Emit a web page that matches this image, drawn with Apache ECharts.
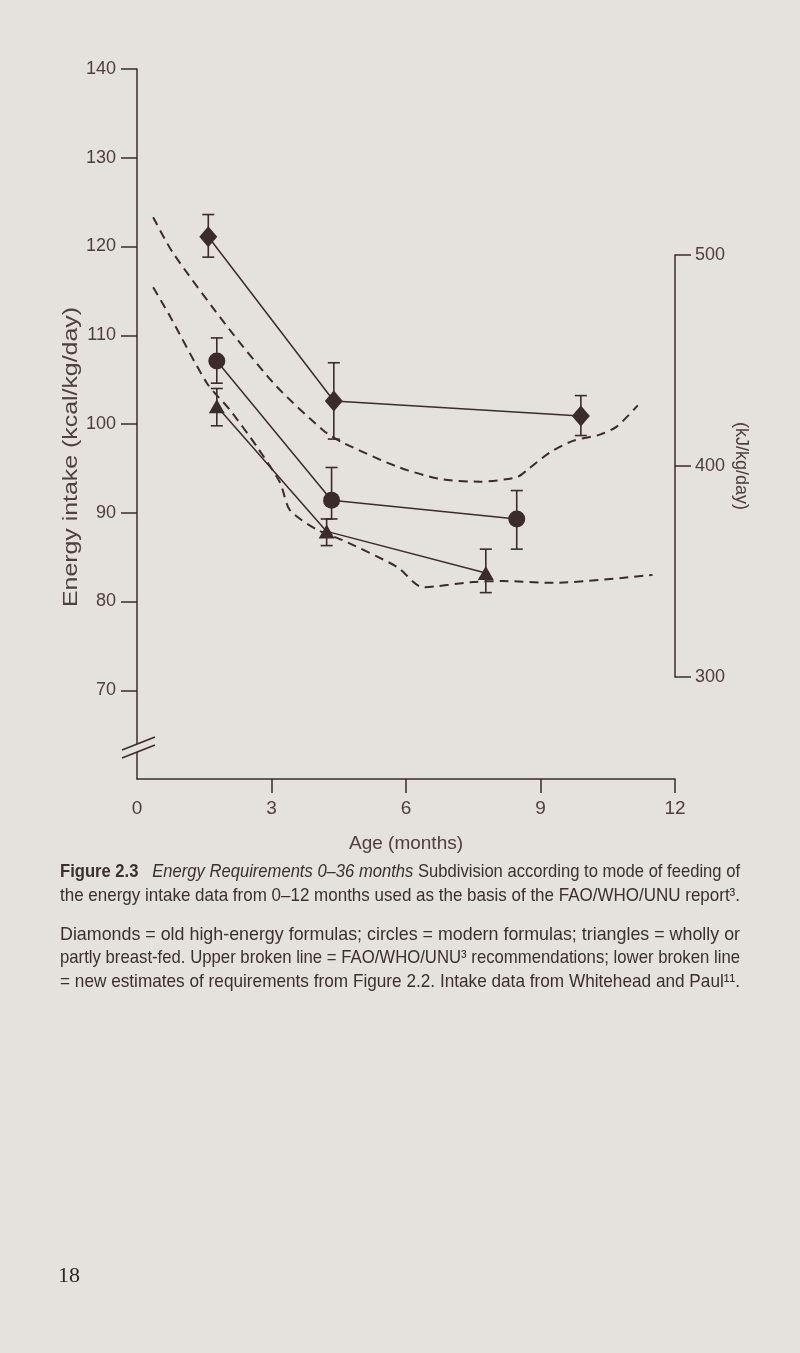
<!DOCTYPE html>
<html>
<head>
<meta charset="utf-8" />
<title>Figure 2.3</title>
<style>
  html, body { margin: 0; padding: 0; background: #e5e1dc; }
  #chart { width: 800px; height: 1353px; }
</style>
</head>
<body>
<div id="chart"></div>
<script src="https://cdn.jsdelivr.net/npm/echarts@6.0.0/dist/echarts.min.js"></script>
<script>
// tick labels
var xTicks = [0, 3, 6, 9, 12];
var kcalTicks = [70, 80, 90, 100, 110, 120, 130, 140];
var kjTicks = [300, 400, 500];

// intake data: age (months), mean and the ends of the bars (kcal/kg/day)
var diamondAge = [1.59, 4.39, 9.90];
var diamondMean = [121.1, 102.6, 100.9];
var diamondLow = [118.8, 98.3, 98.7];
var diamondHigh = [123.6, 106.9, 103.2];

var circleAge = [1.78, 4.34, 8.47];
var circleMean = [107.1, 91.4, 89.3];
var circleLow = [104.6, 89.3, 85.9];
var circleHigh = [109.7, 95.1, 92.5];

var triangleAge = [1.78, 4.23, 7.78];
var triangleMean = [102.0, 87.9, 83.2];
var triangleLow = [99.8, 86.3, 81.0];
var triangleHigh = [104.0, 89.3, 85.9];

// upper broken line = FAO/WHO/UNU recommendations
var upperAge = [0.36, 0.80, 2.07, 3.12, 4.15, 4.59, 5.80, 6.76, 7.65, 8.47, 8.70, 9.21, 9.72, 10.32, 10.70, 11.17];
var upperVal = [123.3, 119.3, 110.6, 104.2, 99.3, 97.9, 95.2, 93.8, 93.5, 94.0, 94.8, 96.8, 98.1, 98.8, 99.7, 102.1];
// lower broken line = new estimates
var lowerAge = [0.36, 0.74, 1.56, 2.07, 2.68, 3.19, 3.41, 4.01, 4.59, 5.80, 6.38, 7.49, 8.16, 9.28, 11.50];
var lowerVal = [115.4, 112.1, 104.6, 101.6, 97.4, 93.4, 90.3, 88.1, 86.9, 83.9, 81.6, 82.2, 82.3, 82.1, 83.0];

var ink = '#3b2c2b';
var textInk = '#4d403f';
var paper = '#e5e1dc';
var sans = '"Liberation Sans", Arial, sans-serif';

function pairs(a, b) {
	return a.map(function (v, i) { return [v, b[i]]; });
}

function errorBars(ages, lows, highs) {
	return {
		type: 'custom',
		z: 3,
		silent: true,
		data: ages.map(function (a, i) { return [a, lows[i], highs[i]]; }),
		renderItem: function (params, api) {
			var lo = api.coord([api.value(0), api.value(1)]);
			var hi = api.coord([api.value(0), api.value(2)]);
			var hw = 6;
			var st = { stroke: ink, lineWidth: 1.6 };
			return {
				type: 'group',
				children: [
					{ type: 'line', shape: { x1: lo[0], y1: lo[1], x2: hi[0], y2: hi[1] }, style: st },
					{ type: 'line', shape: { x1: lo[0] - hw, y1: lo[1], x2: lo[0] + hw, y2: lo[1] }, style: st },
					{ type: 'line', shape: { x1: hi[0] - hw, y1: hi[1], x2: hi[0] + hw, y2: hi[1] }, style: st }
				]
			};
		}
	};
}

function intakeLine(name, ages, means, symbol, size) {
	return {
		name: name,
		type: 'line',
		z: 4,
		data: pairs(ages, means),
		symbol: symbol,
		symbolSize: size,
		itemStyle: { color: ink },
		lineStyle: { color: ink, width: 1.5 }
	};
}

function brokenLine(name, ages, vals) {
	return {
		name: name,
		type: 'line',
		z: 2,
		data: pairs(ages, vals),
		symbol: 'none',
		smooth: 0.25,
		clip: false,
		lineStyle: { color: ink, width: 2, type: [9, 6] }
	};
}

var myChart = echarts.init(document.getElementById('chart'), null, { renderer: 'canvas' });

var options = {
	backgroundColor: paper,
	animation: false,
	textStyle: { fontFamily: sans, color: textInk },
	grid: [
		{ left: 137, top: 69, width: 538, height: 710, outerBoundsMode: 'none' },
		{ left: 675, top: 255, width: 1, height: 422, outerBoundsMode: 'none' }
	],
	xAxis: [{
		gridIndex: 0,
		type: 'value',
		min: 0, max: 12, interval: 3,
		name: 'Age (months)',
		nameLocation: 'middle',
		nameGap: 55,
		nameTextStyle: { fontSize: 19, color: textInk, fontFamily: sans },
		axisLine: { lineStyle: { color: ink, width: 1.5 } },
		axisTick: { length: 14, customValues: [3, 6, 9, 12], lineStyle: { color: ink, width: 1.5 } },
		axisLabel: { customValues: xTicks, margin: 20, fontSize: 19, color: textInk, fontFamily: sans },
		splitLine: { show: false }
	}, {
		gridIndex: 1,
		type: 'value',
		min: 0, max: 1,
		show: false
	}],
	yAxis: [{
		gridIndex: 0,
		type: 'value',
		min: 60, max: 140, interval: 10,
		axisLine: { show: true, lineStyle: { color: ink, width: 1.5 } },
		axisTick: { show: true, length: 16, customValues: kcalTicks, lineStyle: { color: ink, width: 1.5 } },
		axisLabel: { customValues: kcalTicks, margin: 21, fontSize: 18, color: textInk, fontFamily: sans },
		splitLine: { show: false }
	}, {
		gridIndex: 1,
		type: 'value',
		position: 'right',
		min: 300, max: 500, interval: 100,
		name: '(kJ/kg/day)',
		nameLocation: 'middle',
		nameRotate: -90,
		nameGap: 56,
		nameTextStyle: { fontSize: 18, color: textInk, fontFamily: sans },
		axisLine: { show: true, lineStyle: { color: ink, width: 1.5 } },
		axisTick: { show: true, length: 16, customValues: kjTicks, lineStyle: { color: ink, width: 1.5 } },
		axisLabel: { customValues: kjTicks, margin: 19, fontSize: 18, color: textInk, fontFamily: sans },
		splitLine: { show: false }
	}],
	series: [
		brokenLine('FAO/WHO/UNU', upperAge, upperVal),
		brokenLine('New estimates', lowerAge, lowerVal),
		errorBars(diamondAge, diamondLow, diamondHigh),
		errorBars(circleAge, circleLow, circleHigh),
		errorBars(triangleAge, triangleLow, triangleHigh),
		intakeLine('Diamonds', diamondAge, diamondMean, 'diamond', [18, 21]),
		intakeLine('Circles', circleAge, circleMean, 'circle', 17),
		intakeLine('Triangles', triangleAge, triangleMean, 'triangle', [16, 14])
	]
};

myChart.setOption(options);

var ctx = document.createElement('canvas').getContext('2d');

// caption lines, condensed to the text block width
var capFont = 19;
var capLeft = 60;
var capWidth = 680;
var capLines = [
	{ y: 872, segs: [['b', 'Figure 2.3'], ['n', '   '], ['i', 'Energy Requirements 0\u201336 months'], ['n', ' Subdivision according to mode of feeding of']] },
	{ y: 896, segs: [['n', 'the energy intake data from 0\u201312 months used as the basis of the FAO/WHO/UNU report\u00b3.']] },
	{ y: 935, segs: [['n', 'Diamonds = old high-energy formulas; circles = modern formulas; triangles = wholly or']] },
	{ y: 958, segs: [['n', 'partly breast-fed. Upper broken line = FAO/WHO/UNU\u00b3 recommendations; lower broken line']] },
	{ y: 982, segs: [['n', '= new estimates of requirements from Figure 2.2. Intake data from Whitehead and Paul\u00b9\u00b9.']] }
];
function fontOf(k) {
	var pre = k === 'b' ? 'bold ' : (k === 'i' ? 'italic ' : '');
	return pre + capFont + 'px "Liberation Sans"';
}
var graphics = [];
capLines.forEach(function (line) {
	var w = 0;
	var txt = '';
	line.segs.forEach(function (s) {
		ctx.font = fontOf(s[0]);
		w += ctx.measureText(s[1]).width;
		txt += '{' + s[0] + '|' + s[1] + '}';
	});
	graphics.push({
		type: 'text',
		x: capLeft,
		y: line.y,
		scaleX: capWidth / w,
		style: {
			text: txt,
			fill: '#3a302f',
			verticalAlign: 'middle',
			rich: {
				n: { fontSize: capFont, fontFamily: '"Liberation Sans"', color: '#3a302f' },
				b: { fontSize: capFont, fontFamily: '"Liberation Sans"', fontWeight: 'bold', color: '#3a302f' },
				i: { fontSize: capFont, fontFamily: '"Liberation Sans"', fontStyle: 'italic', color: '#3a302f' }
			}
		}
	});
});

// y-axis title, stretched along the axis like the printed one
var yTitle = 'Energy intake (kcal/kg/day)';
ctx.font = '21px "Liberation Sans"';
var yTitleW = ctx.measureText(yTitle).width;
graphics.push({
	type: 'text',
	x: 71, y: 457,
	rotation: Math.PI / 2,
	scaleX: 300 / yTitleW,
	style: {
		text: yTitle,
		fontSize: 21, fontFamily: sans, fill: textInk,
		align: 'center', verticalAlign: 'middle'
	}
});

// page number
graphics.push({
	type: 'text',
	x: 58, y: 1276,
	style: {
		text: '18',
		fontSize: 22, fontFamily: '"Liberation Serif", serif', fill: '#2e2626',
		verticalAlign: 'middle'
	}
});

// break mark on the kcal axis
var bp = myChart.convertToPixel({ gridIndex: 0 }, [0, 63.5]);
graphics.push({
	type: 'rect',
	shape: { x: bp[0] - 3, y: bp[1] - 4, width: 6, height: 8 },
	style: { fill: paper },
	z: 10
});
graphics.push({
	type: 'line',
	shape: { x1: bp[0] - 15, y1: bp[1] - 4 + 6, x2: bp[0] + 18, y2: bp[1] - 4 - 7 },
	style: { stroke: ink, lineWidth: 1.5 },
	z: 11
});
graphics.push({
	type: 'line',
	shape: { x1: bp[0] - 15, y1: bp[1] + 4 + 6, x2: bp[0] + 18, y2: bp[1] + 4 - 7 },
	style: { stroke: ink, lineWidth: 1.5 },
	z: 11
});

myChart.setOption({ graphic: graphics });
</script>
</body>
</html>
